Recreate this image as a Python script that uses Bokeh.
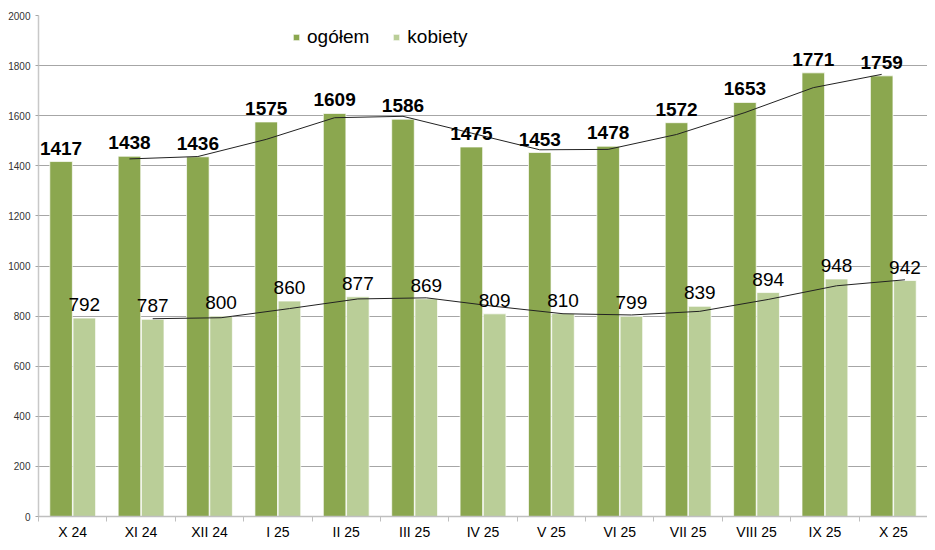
from bokeh.plotting import figure
from bokeh.models import Range1d, FixedTicker, ColumnDataSource, LabelSet, Legend, LegendItem
from bokeh.core.properties import value
from bokeh.embed import file_html
from bokeh.resources import INLINE

months = ["X 24", "XI 24", "XII 24", "I 25", "II 25", "III 25", "IV 25",
          "V 25", "VI 25", "VII 25", "VIII 25", "IX 25", "X 25"]
ogolem = [1417, 1438, 1436, 1575, 1609, 1586, 1475, 1453, 1478, 1572, 1653, 1771, 1759]
kobiety = [792, 787, 800, 860, 877, 869, 809, 810, 799, 839, 894, 948, 942]
y_ticks = list(range(0, 2001, 200))

C_OG = "#8BA74F"
C_KO = "#BACE98"
FONT = "Liberation Sans"
OFF = 0.17
BW = 0.33

n = len(months)
idx = list(range(n))
src = ColumnDataSource(dict(
    x_og=[i - OFF for i in idx], x_ko=[i + OFF for i in idx],
    og=ogolem, ko=kobiety,
    og_t=[str(v) for v in ogolem], ko_t=[str(v) for v in kobiety],
))

# 2-period moving averages (trendlines)
ma_og = [(ogolem[i - 1] + ogolem[i]) / 2 for i in range(1, n)]
ma_ko = [(kobiety[i - 1] + kobiety[i]) / 2 for i in range(1, n)]
ma_src = ColumnDataSource(dict(
    x_og=[i - OFF for i in range(1, n)], x_ko=[i + OFF for i in range(1, n)],
    og=ma_og, ko=ma_ko,
))

p = figure(width=927, height=542, output_backend="svg", toolbar_location=None,
           x_range=Range1d(-0.5, n - 0.5), y_range=Range1d(0, 2000),
           min_border_left=38, min_border_right=0, min_border_top=15, min_border_bottom=20)
p.outline_line_color = None
p.background_fill_color = "white"
p.border_fill_color = "white"

r_og = p.vbar(x="x_og", top="og", width=BW, source=src, fill_color=C_OG,
              line_color="white", line_alpha=0.7, line_width=1)
r_ko = p.vbar(x="x_ko", top="ko", width=BW, source=src, fill_color=C_KO,
              line_color="white", line_alpha=0.7, line_width=1)

p.line(x="x_og", y="og", source=ma_src, line_color="#222222", line_width=1)
p.line(x="x_ko", y="ko", source=ma_src, line_color="#222222", line_width=1)

p.add_layout(LabelSet(x="x_og", y="og", text="og_t", source=src, y_offset=7,
                      text_align="center", text_baseline="alphabetic",
                      text_font=value(FONT), text_font_size="19px", text_font_style="bold",
                      text_color="black"))
p.add_layout(LabelSet(x="x_ko", y="ko", text="ko_t", source=src, y_offset=7,
                      text_align="center", text_baseline="alphabetic",
                      text_font=value(FONT), text_font_size="19px",
                      text_color="black"))

# axes
xa = p.xaxis[0]
xa.ticker = FixedTicker(ticks=idx, minor_ticks=[i + 0.5 for i in range(-1, n)])
xa.major_label_overrides = {i: m for i, m in enumerate(months)}
xa.major_tick_in = 0
xa.major_tick_out = 0
xa.minor_tick_in = 0
xa.minor_tick_out = 5
xa.minor_tick_line_color = "#BFBFBF"
xa.axis_line_color = "#BFBFBF"
xa.axis_line_width = 1.5
xa.major_label_text_font = FONT
xa.major_label_text_font_size = "14px"
xa.major_label_text_color = "black"
xa.major_label_standoff = 2

ya = p.yaxis[0]
ya.ticker = FixedTicker(ticks=y_ticks)
ya.minor_tick_line_color = None
ya.major_tick_in = 0
ya.major_tick_out = 3
ya.major_tick_line_color = "#A6A6A6"
ya.axis_line_color = "#C8C8C8"
ya.axis_line_width = 1.5
ya.major_label_text_font = FONT
ya.major_label_text_font_size = "10px"
ya.major_label_text_color = "#333333"
ya.major_label_standoff = 5

p.xgrid.grid_line_color = None
p.ygrid.grid_line_color = "#A6A6A6"
p.ygrid.grid_line_width = 1

legend = Legend(items=[LegendItem(label="ogółem", renderers=[r_og]),
                       LegendItem(label="kobiety", renderers=[r_ko])],
                orientation="horizontal", location=(254, 468),
                padding=0, spacing=23, label_standoff=7,
                glyph_width=8, glyph_height=8, label_height=20,
                label_text_font=FONT, label_text_font_size="19px",
                label_text_color="black",
                background_fill_alpha=0, border_line_color=None)
p.add_layout(legend)

open("out.html", "w").write(file_html(p, INLINE))
